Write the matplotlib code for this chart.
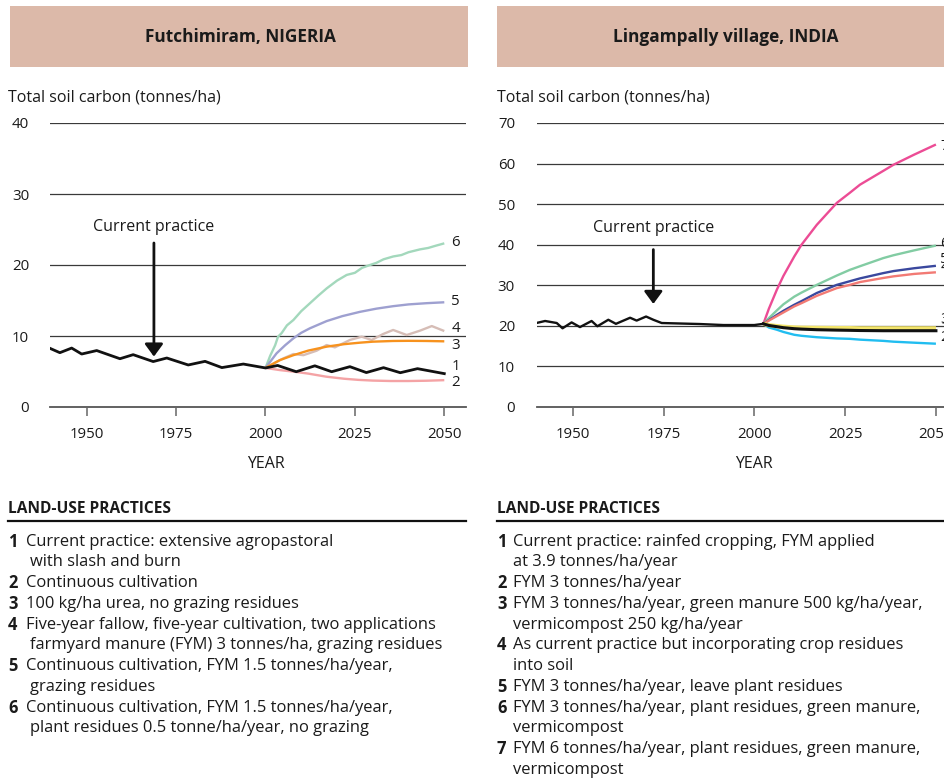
import matplotlib
matplotlib.use('Agg')
import matplotlib.pyplot as plt
from matplotlib.patches import Rectangle
from matplotlib.lines import Line2D

plt.rcParams['font.family'] = ['Open Sans', 'DejaVu Sans']

# ---------------- DATA ----------------
# Nigeria (Futchimiram)
ng_title = "Futchimiram, NIGERIA"
ng_hist_years = [1939.7, 1942.5, 1945.8, 1948.6, 1952.8, 1959.3, 1963.0, 1968.6, 1972.4,
                 1978.4, 1983.1, 1987.8, 1993.8, 2000.0, 2003.4, 2008.6, 2013.8, 2018.5,
                 2023.6, 2028.2, 2033.0, 2037.7, 2042.5, 2050.0]
ng_hist_vals = [8.27, 7.65, 8.3, 7.46, 7.95, 6.8, 7.37, 6.4, 6.9,
                5.92, 6.43, 5.55, 6.05, 5.5, 5.85, 4.97, 5.8, 4.97,
                5.68, 4.85, 5.54, 4.83, 5.4, 4.7]
ng_s2_years = [2000, 2004, 2008, 2012, 2017, 2022, 2026, 2030, 2035, 2040, 2045, 2050]
ng_s2_vals = [5.5, 5.2, 4.97, 4.7, 4.27, 3.98, 3.82, 3.72, 3.66, 3.66, 3.7, 3.78]
ng_s3_years = [2000, 2004, 2007.8, 2012, 2017.1, 2022, 2026.4, 2030, 2035.7, 2040, 2045, 2050]
ng_s3_vals = [5.5, 6.6, 7.3, 7.95, 8.5, 8.85, 9.06, 9.2, 9.3, 9.32, 9.3, 9.25]
ng_s4_years = [2000, 2002.5, 2005.0, 2007.8, 2010.6, 2014.3, 2017.1, 2019.4, 2023.6, 2026.9,
               2029.7, 2032.9, 2035.7, 2039.5, 2043.2, 2046.5, 2050.0]
ng_s4_vals = [5.5, 6.2, 6.85, 7.46, 7.3, 7.93, 8.73, 8.4, 9.44, 9.9,
              9.44, 10.28, 10.85, 10.14, 10.75, 11.4, 10.7]
ng_s5_years = [2000, 2003.1, 2005.5, 2007.8, 2010, 2012.4, 2017.1, 2021.5, 2026.4, 2031,
               2035.7, 2040, 2045, 2050]
ng_s5_vals = [5.5, 7.56, 8.7, 9.67, 10.45, 11.08, 12.1, 12.8, 13.4, 13.85,
              14.2, 14.45, 14.62, 14.75]
ng_s6_years = [2000, 2001.3, 2002.7, 2003.5, 2004.5, 2006, 2007.8, 2010, 2012.4, 2014.8,
               2017.1, 2020, 2022.7, 2025, 2027, 2029.2, 2031, 2033, 2035.7, 2038, 2040,
               2043.2, 2045.5, 2047.5, 2050]
ng_s6_vals = [5.5, 7.2, 8.7, 9.9, 10.4, 11.5, 12.25, 13.5, 14.6, 15.7,
              16.7, 17.8, 18.6, 18.9, 19.6, 20.0, 20.3, 20.8, 21.2, 21.4, 21.8,
              22.2, 22.4, 22.7, 23.05]

# India (Lingampally village)
in_title = "Lingampally village, INDIA"
in_hist_years = [1940.0, 1942.4, 1945.6, 1947.2, 1949.7, 1952.0, 1955.2, 1956.8, 1959.8,
                 1961.9, 1965.8, 1967.6, 1970.2, 1972.2, 1974.5, 1985.0, 1991.5, 2000.0, 2002.5]
in_hist_vals = [20.7, 21.2, 20.7, 19.4, 20.85, 19.7, 21.2, 19.9, 21.5,
                20.5, 22.0, 21.3, 22.3, 21.5, 20.7, 20.45, 20.2, 20.2, 20.5]
in_branch_years = [2002.5, 2004, 2006.2, 2008, 2011, 2013, 2017.2, 2022.7, 2026.3, 2029.1,
                   2035.5, 2038.3, 2044, 2050]
in_s1_vals = [20.5, 20.1, 19.8, 19.55, 19.3, 19.2, 19.05, 18.95, 18.9, 18.85, 18.8, 18.8, 18.8, 18.8]
in_s2_vals = [20.5, 19.6, 19.05, 18.5, 17.8, 17.55, 17.2, 16.9, 16.8, 16.6, 16.3, 16.1, 15.85, 15.6]
in_s3_vals = [20.5, 20.2, 19.95, 19.8, 19.6, 19.55, 19.5, 19.45, 19.45, 19.4, 19.4, 19.4, 19.4, 19.4]
in_s4_vals = [20.5, 21.3, 22.4, 23.3, 24.8, 25.6, 27.4, 29.3, 30.1, 30.8, 31.8, 32.2, 32.8, 33.2]
in_s5_vals = [20.5, 21.4, 22.7, 23.7, 25.2, 26.1, 28.1, 30.1, 31.0, 31.7, 33.0, 33.5, 34.2, 34.8]
in_s6_vals = [20.5, 21.9, 23.8, 25.3, 27.2, 28.2, 30.1, 32.4, 33.8, 34.7, 36.7, 37.4, 38.6, 39.8]
in_s7_vals = [20.5, 24.2, 28.9, 32.3, 37.1, 40.0, 44.9, 50.3, 52.8, 54.8, 58.2, 59.7, 62.2, 64.7]

x_ticks = [1950, 1975, 2000, 2025, 2050]
ng_y_ticks = [0, 10, 20, 30, 40]
in_y_ticks = [0, 10, 20, 30, 40, 50, 60, 70]

ng_practices = [
    ("1", ["Current practice: extensive agropastoral", "with slash and burn"]),
    ("2", ["Continuous cultivation"]),
    ("3", ["100 kg/ha urea, no grazing residues"]),
    ("4", ["Five-year fallow, five-year cultivation, two applications",
           "farmyard manure (FYM) 3 tonnes/ha, grazing residues"]),
    ("5", ["Continuous cultivation, FYM 1.5 tonnes/ha/year,", "grazing residues"]),
    ("6", ["Continuous cultivation, FYM 1.5 tonnes/ha/year,",
           "plant residues 0.5 tonne/ha/year, no grazing"]),
]
in_practices = [
    ("1", ["Current practice: rainfed cropping, FYM applied", "at 3.9 tonnes/ha/year"]),
    ("2", ["FYM 3 tonnes/ha/year"]),
    ("3", ["FYM 3 tonnes/ha/year, green manure 500 kg/ha/year,", "vermicompost 250 kg/ha/year"]),
    ("4", ["As current practice but incorporating crop residues", "into soil"]),
    ("5", ["FYM 3 tonnes/ha/year, leave plant residues"]),
    ("6", ["FYM 3 tonnes/ha/year, plant residues, green manure,", "vermicompost"]),
    ("7", ["FYM 6 tonnes/ha/year, plant residues, green manure,", "vermicompost"]),
]

# ---------------- FIGURE ----------------
W, H = 945, 778
fig = plt.figure(figsize=(W / 100, H / 100), dpi=100)


def fx(px):
    return px / W


def fy(py):
    return 1 - py / H


HEADER = '#dcb9a9'
TXT = '#1a1a1a'
FS = 11.5
LFS = 11.9
TFS = 10.8


def setup_axes(left_px, width_px, xlim, ylim, yticks, ypad):
    ax = fig.add_axes([fx(left_px), fy(407), width_px / W, 284 / H])
    ax.set_xlim(*xlim)
    ax.set_ylim(*ylim)
    for s in ax.spines.values():
        s.set_visible(False)
    for v in yticks:
        if v == 0:
            ax.axhline(v, color='#555555', lw=1.3, zorder=1, clip_on=False)
        else:
            ax.axhline(v, color='#3a3a3a', lw=0.9, zorder=1)
    ax.set_yticks(yticks)
    ax.set_yticklabels([str(v) for v in yticks], fontsize=TFS, color=TXT)
    ax.tick_params(axis='y', length=0, pad=ypad)
    ax.set_xticks(x_ticks)
    ax.set_xticklabels([str(v) for v in x_ticks], fontsize=TFS, color=TXT)
    ax.tick_params(axis='x', length=6.5, width=1.1, color='#666666', pad=8, direction='out')
    ax.patch.set_alpha(0)
    return ax


# Header boxes
fig.patches.append(Rectangle((fx(10), fy(67)), fx(458), 61 / H, transform=fig.transFigure,
                             facecolor=HEADER, edgecolor='none'))
fig.patches.append(Rectangle((fx(497), fy(67)), fx(460), 61 / H, transform=fig.transFigure,
                             facecolor=HEADER, edgecolor='none'))
fig.text(fx(240), fy(37), ng_title, ha='center', va='center', fontsize=12.4,
         fontweight='bold', color=TXT)
fig.text(fx(726), fy(37), in_title, ha='center', va='center', fontsize=12.4,
         fontweight='bold', color=TXT)

# Axis titles
fig.text(fx(8), fy(97), "Total soil carbon (tonnes/ha)", ha='left', va='center',
         fontsize=FS, color=TXT)
fig.text(fx(497), fy(97), "Total soil carbon (tonnes/ha)", ha='left', va='center',
         fontsize=FS, color=TXT)

# ---------- Nigeria ----------
ax1 = setup_axes(50, 416, (1939.74, 2056.07), (0, 40), ng_y_ticks, 15)
ng_series = [
    (ng_s6_years, ng_s6_vals, '#a3d8bc'),
    (ng_s5_years, ng_s5_vals, '#9ea0d0'),
    (ng_s4_years, ng_s4_vals, '#d6bdb6'),
    (ng_s2_years, ng_s2_vals, '#f4a3a5'),
    (ng_s3_years, ng_s3_vals, '#f7921e'),
]
for xs, ys, c in ng_series:
    ax1.plot(xs, ys, color=c, lw=1.7, solid_capstyle='butt', solid_joinstyle='round', zorder=3)
ax1.plot(ng_hist_years, ng_hist_vals, color='#111111', lw=2.0, zorder=4,
         solid_joinstyle='round')
ng_label_pos = [("6", 23.1), ("5", 14.8), ("4", 11.1), ("3", 8.6), ("1", 5.65), ("2", 3.45)]
for lab, yv in ng_label_pos:
    ax1.text(2052.0, yv, lab, ha='left', va='center', fontsize=TFS, color=TXT, clip_on=False)
ax1.annotate("", xy=(1968.8, 7.1), xytext=(1968.8, 23.1),
             arrowprops=dict(arrowstyle='-|>,head_length=0.75,head_width=0.55',
                             color='#111111', lw=2.0, shrinkA=0, shrinkB=0))
ax1.text(1968.8, 25.3, "Current practice", ha='center', va='center', fontsize=FS, color=TXT)
ax1.text(2000, -8.0, "YEAR", ha='center', va='center', fontsize=FS, color=TXT)

# ---------- India ----------
ax2 = setup_axes(537, 408, (1940.17, 2052.5), (0, 70), in_y_ticks, 15.8)
in_series = [
    (in_s7_vals, '#ec4c95'),
    (in_s6_vals, '#82cca3'),
    (in_s5_vals, '#3a489e'),
    (in_s4_vals, '#f27a74'),
    (in_s2_vals, '#21bdf0'),
    (in_s3_vals, '#f3e56c'),
]
for ys, c in in_series:
    lw = 3.0 if c == '#f3e56c' else 1.7
    ax2.plot(in_branch_years, ys, color=c, lw=lw, solid_capstyle='butt',
             solid_joinstyle='round', zorder=3)
ax2.plot(in_branch_years, in_s1_vals, color='#111111', lw=2.2, zorder=4)
ax2.plot(in_hist_years, in_hist_vals, color='#111111', lw=1.7, zorder=4,
         solid_joinstyle='round')
in_label_pos = [("7", 64.2), ("6", 40.4), ("5", 36.4), ("4", 34.4), ("3", 21.5), ("1", 19.5),
                ("2", 17.1)]
for lab, yv in in_label_pos:
    ax2.text(2051.2, yv, lab, ha='left', va='center', fontsize=TFS, color=TXT, clip_on=False)
ax2.annotate("", xy=(1972.2, 25.4), xytext=(1972.2, 38.8),
             arrowprops=dict(arrowstyle='-|>,head_length=0.75,head_width=0.55',
                             color='#111111', lw=2.0, shrinkA=0, shrinkB=0))
ax2.text(1972.2, 44.0, "Current practice", ha='center', va='center', fontsize=FS, color=TXT)
ax2.text(2000, -14.0, "YEAR", ha='center', va='center', fontsize=FS, color=TXT)


# ---------- Land-use practices ----------
def practices(x0, x_text, x_right, items, cont_indent):
    fig.text(fx(x0), fy(509), "LAND-USE PRACTICES", ha='left', va='center', fontsize=11.2,
             fontweight='bold', color=TXT)
    fig.add_artist(Line2D([fx(x0), fx(x_right)], [fy(521), fy(521)], color='#111111',
                          lw=1.6, transform=fig.transFigure))
    y = 541.7
    step = 20.75
    for num, lines in items:
        fig.text(fx(x0), fy(y), num, ha='left', va='center', fontsize=LFS,
                 fontweight='bold', color=TXT)
        for i, ln in enumerate(lines):
            xx = x_text if i == 0 else x_text + cont_indent
            fig.text(fx(xx), fy(y), ln, ha='left', va='center', fontsize=LFS, color=TXT)
            y += step


practices(8, 26, 466, ng_practices, 4)
practices(497, 513, 950, in_practices, 0)

fig.savefig("out.png", dpi=100)
